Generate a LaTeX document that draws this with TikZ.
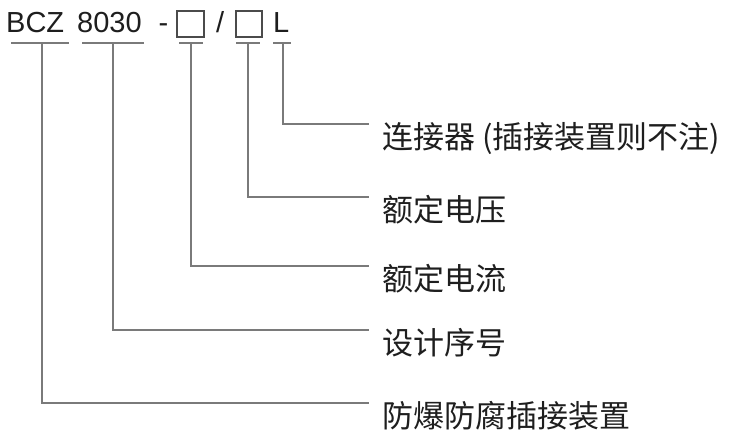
\documentclass[tikz,border=0pt]{standalone}
\usepackage{fontspec}
\setmainfont{Liberation Sans}
\newfontfamily\cjk{Noto Sans CJK SC}
\definecolor{linegray}{HTML}{7A7A7A}
\definecolor{txt}{HTML}{1E1E1E}
\begin{document}
\begin{tikzpicture}[x=1pt,y=-1pt,
  code/.style={inner sep=0pt,anchor=base west,text=txt,font=\fontsize{29}{29}\selectfont},
  lab/.style={inner sep=0pt,anchor=base west,text=txt,font=\cjk\fontsize{31}{31}\selectfont},
  conn/.style={draw=linegray,line width=1.1pt},
  ubar/.style={draw=linegray,line width=1.1pt},
  codebox/.style={draw=txt!80,line width=1.1pt}]
\useasboundingbox[fill=white] (0,0) rectangle (730,441);
% code parts
\node[code] (bcz) at (6,33) {BCZ};
\node[code] (num) at (77,33) {8030};
\node[code] (dash) at (158.5,33) {-};
\node[code] (slash) at (216,33) {/};
\node[code] (ell) at (273,33) {L};
\draw[codebox] (177,11) rectangle (204,37) coordinate (boxA);
\draw[codebox] (236,11) rectangle (262,37) coordinate (boxB);
% underlines
\draw[ubar] (11,43) -- (69,43);
\draw[ubar] (82,43) -- (144,43);
\draw[ubar] (179,43) -- (203,43);
\draw[ubar] (236,43) -- (260,43);
\draw[ubar] (273,43) -- (291,43);
\coordinate (u1) at (42,43);
\coordinate (u2) at (113,43);
\coordinate (u3) at (191,43);
\coordinate (u4) at (248,43);
\coordinate (u5) at (283,43);
% line ends
\coordinate (e5) at (369,124);
\coordinate (e4) at (369,197);
\coordinate (e3) at (369,266);
\coordinate (e2) at (369,330);
\coordinate (e1) at (369,403);
% labels
\node[lab] (t5) at ([shift={(13,24)}]e5) {连接器 (插接装置则不注)};
\node[lab] (t4) at ([shift={(13,24)}]e4) {额定电压};
\node[lab] (t3) at ([shift={(13,24)}]e3) {额定电流};
\node[lab] (t2) at ([shift={(13,24)}]e2) {设计序号};
\node[lab] (t1) at ([shift={(13,24)}]e1) {防爆防腐插接装置};
% connectors
\draw[conn] (u5) |- (e5);
\draw[conn] (u4) |- (e4);
\draw[conn] (u3) |- (e3);
\draw[conn] (u2) |- (e2);
\draw[conn] (u1) |- (e1);
\end{tikzpicture}
\end{document}
